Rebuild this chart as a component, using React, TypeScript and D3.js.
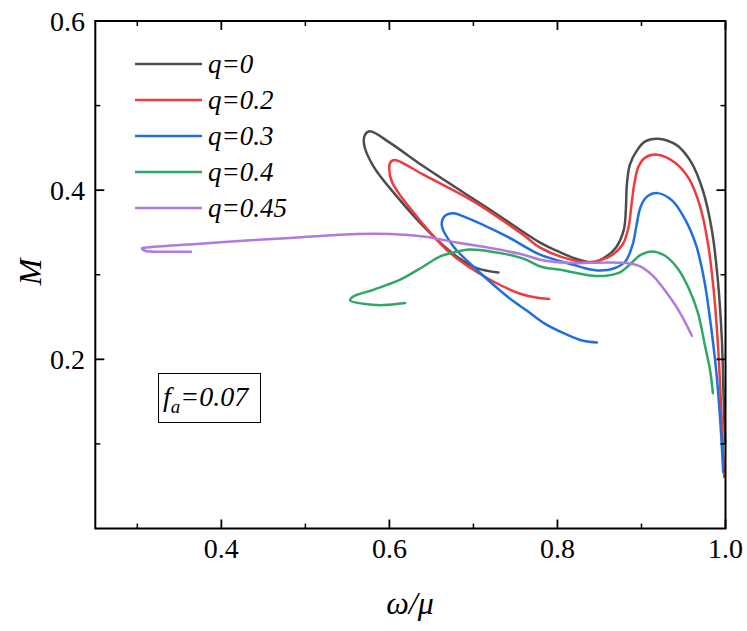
import React from "react";
import * as d3 from "d3";

type Pt = [number, number];

const seriesLabels = ["q=0", "q=0.2", "q=0.3", "q=0.4", "q=0.45"];
const seriesColors = ["#4d4d4d", "#ef3b3b", "#1f6fdc", "#2fa866", "#b07ae0"];

// values (ω/μ, M)
const q0: Pt[] = [
  [0.9996, 0.1012], [0.9978, 0.1533], [0.9957, 0.2225], [0.9909, 0.2935], [0.9838, 0.3527],
  [0.973, 0.3999], [0.9588, 0.4337], [0.9411, 0.4538], [0.919, 0.4609], [0.904, 0.4574],
  [0.8945, 0.4467], [0.8862, 0.4302], [0.8826, 0.4065], [0.8814, 0.3769], [0.8790, 0.3533],
  [0.8695, 0.3320], [0.8540, 0.3190], [0.8425, 0.3145], [0.8247, 0.3180], [0.7990, 0.3284],
  [0.7794, 0.3380], [0.7199, 0.3769], [0.6405, 0.4282], [0.6008, 0.4559], [0.577, 0.4696],
  [0.5711, 0.4657], [0.5699, 0.4538], [0.581, 0.4282], [0.6088, 0.3927], [0.6485, 0.3493],
  [0.6802, 0.3217], [0.704, 0.3079], [0.7298, 0.3027],
];

const q02: Pt[] = [
  [0.9985, 0.0609], [0.9949, 0.1414], [0.9913, 0.2124], [0.9860, 0.2811], [0.9790, 0.3379],
  [0.9695, 0.3817], [0.9565, 0.4136], [0.9400, 0.4325], [0.919, 0.4420], [0.9045, 0.4385],
  [0.8964, 0.4278], [0.8917, 0.4089], [0.8881, 0.3828], [0.8845, 0.3556], [0.8774, 0.3355],
  [0.8655, 0.3237], [0.8508, 0.3172], [0.8389, 0.3150], [0.819, 0.3170], [0.7794, 0.3320],
  [0.7595, 0.3470], [0.7, 0.3868], [0.6405, 0.4183], [0.6150, 0.4325], [0.6068, 0.4358],
  [0.6015, 0.4335], [0.5998, 0.4260], [0.6032, 0.4095], [0.6326, 0.369], [0.6723, 0.3257],
  [0.7199, 0.2941], [0.7595, 0.2763], [0.7901, 0.2712],
];

const q03: Pt[] = [
  [0.9973, 0.0669], [0.9937, 0.1280], [0.9889, 0.1870], [0.9818, 0.2462], [0.9747, 0.2935],
  [0.9652, 0.3343], [0.9521, 0.3651], [0.9366, 0.3876], [0.919, 0.3965], [0.9059, 0.3918],
  [0.8988, 0.3799], [0.8941, 0.3586], [0.8893, 0.3349], [0.8810, 0.3160], [0.8679, 0.3077],
  [0.8508, 0.3050], [0.8330, 0.3077], [0.819, 0.3118], [0.7794, 0.3237], [0.7398, 0.3453],
  [0.6881, 0.369], [0.6762, 0.3728], [0.6655, 0.3690], [0.6624, 0.358], [0.6762, 0.3335],
  [0.704, 0.3059], [0.7238, 0.2882], [0.7437, 0.2716], [0.7639, 0.2574], [0.7854, 0.2420],
  [0.8092, 0.2302], [0.8306, 0.2219], [0.8469, 0.2199],
];

const q04: Pt[] = [
  [0.985, 0.16], [0.9815, 0.1876], [0.9755, 0.2166], [0.9672, 0.2550], [0.9565, 0.2834],
  [0.9434, 0.3071], [0.9280, 0.3225], [0.9124, 0.3276], [0.8981, 0.3229], [0.8862, 0.3122],
  [0.8743, 0.3027], [0.8576, 0.2988], [0.8389, 0.2992], [0.8032, 0.3059], [0.7794, 0.3098],
  [0.7595, 0.3190], [0.7199, 0.3276], [0.6921, 0.3296], [0.6762, 0.3264], [0.6604, 0.3217],
  [0.6405, 0.3098], [0.6127, 0.2941], [0.581, 0.2822], [0.5571, 0.2743], [0.5532, 0.2696],
  [0.569, 0.2657], [0.5929, 0.2641], [0.6187, 0.2665],
];

const q045: Pt[] = [
  [0.96, 0.2278], [0.9461, 0.2547], [0.9302, 0.2783], [0.9143, 0.298], [0.8985, 0.3098],
  [0.8826, 0.3138], [0.8588, 0.3146], [0.819, 0.3138], [0.7794, 0.3178], [0.7595, 0.3237],
  [0.7199, 0.3316], [0.6802, 0.3382], [0.6405, 0.3453], [0.6008, 0.3482], [0.5612, 0.3482],
  [0.5214, 0.3462], [0.4818, 0.3434], [0.4342, 0.3408], [0.3746, 0.3367], [0.3151, 0.3325],
  [0.3056, 0.3314], [0.3092, 0.3284], [0.333, 0.3272], [0.3639, 0.3272],
];

const seriesData: Pt[][] = [q0, q02, q03, q04, q045];

const xMajorTicks = [0.4, 0.6, 0.8, 1.0];
const xMinorTicks = [0.3, 0.5, 0.7, 0.9];
const yMajorTicks = [0.2, 0.4, 0.6];
const yMinorTicks = [0.1, 0.3, 0.5];

const W = 747;
const H = 631;
const left = 95.3;
const right = 725.5;
const top = 21;
const bottom = 528.5;

export default function App() {
  const x = d3.scaleLinear().domain([0.25, 1.0]).range([left, right]);
  const y = d3.scaleLinear().domain([0, 0.6]).range([bottom, top]);
  const line = d3
    .line<Pt>()
    .x((d) => x(d[0]))
    .y((d) => y(d[1]))
    .curve(d3.curveCatmullRom.alpha(0.5));

  const majorLen = 9;
  const minorLen = 5;

  return (
    <svg width={W} height={H} style={{ position: "absolute", left: 0, top: 0 }}>
      <style>{`text, tspan { font-family: "Liberation Serif"; }`}</style>
      <rect x={0} y={0} width={W} height={H} fill="#fff" />
      {seriesData.map((d, i) => (
        <path key={i} d={line(d) || ""} fill="none" stroke={seriesColors[i]} strokeWidth={2.5} strokeLinejoin="round" strokeLinecap="round" />
      ))}
      <rect x={left} y={top} width={right - left} height={bottom - top} fill="none" stroke="#000" strokeWidth={2} />
      {xMajorTicks.map((t) => (
        <line key={"xM" + t} x1={x(t)} x2={x(t)} y1={bottom} y2={bottom - majorLen} stroke="#000" strokeWidth={1.8} />
      ))}
      {xMajorTicks.map((t) => (
        <line key={"xMt" + t} x1={x(t)} x2={x(t)} y1={top} y2={top + majorLen} stroke="#000" strokeWidth={1.8} />
      ))}
      {xMinorTicks.map((t) => (
        <line key={"xm" + t} x1={x(t)} x2={x(t)} y1={bottom} y2={bottom - minorLen} stroke="#000" strokeWidth={1.5} />
      ))}
      {xMinorTicks.map((t) => (
        <line key={"xmt" + t} x1={x(t)} x2={x(t)} y1={top} y2={top + minorLen} stroke="#000" strokeWidth={1.5} />
      ))}
      {yMajorTicks.map((t) => (
        <line key={"yM" + t} x1={left} x2={left + majorLen} y1={y(t)} y2={y(t)} stroke="#000" strokeWidth={1.8} />
      ))}
      {yMajorTicks.map((t) => (
        <line key={"yMr" + t} x1={right} x2={right - majorLen} y1={y(t)} y2={y(t)} stroke="#000" strokeWidth={1.8} />
      ))}
      {yMinorTicks.map((t) => (
        <line key={"ym" + t} x1={left} x2={left + minorLen} y1={y(t)} y2={y(t)} stroke="#000" strokeWidth={1.5} />
      ))}
      {yMinorTicks.map((t) => (
        <line key={"ymr" + t} x1={right} x2={right - minorLen} y1={y(t)} y2={y(t)} stroke="#000" strokeWidth={1.5} />
      ))}
      {xMajorTicks.map((t) => (
        <text key={"xl" + t} x={x(t)} y={558} textAnchor="middle" fontSize={28} fontFamily="Liberation Serif" style={{ fontFamily: '"Liberation Serif"' }}>
          {t.toFixed(1)}
        </text>
      ))}
      {yMajorTicks.map((t) => (
        <text key={"yl" + t} x={85} y={y(t) + 9.5} textAnchor="end" fontSize={28} fontFamily="Liberation Serif" style={{ fontFamily: '"Liberation Serif"' }}>
          {t.toFixed(1)}
        </text>
      ))}
      <text x={410} y={614} textAnchor="middle" fontSize={32} fontStyle="italic" fontFamily="Liberation Serif" style={{ fontFamily: '"Liberation Serif"' }}>
        ω/μ
      </text>
      <text transform="translate(41,272) rotate(-90)" textAnchor="middle" fontSize={32} fontStyle="italic" fontFamily="Liberation Serif" style={{ fontFamily: '"Liberation Serif"' }}>
        M
      </text>
      {seriesLabels.map((lab, i) => (
        <line key={"ll" + lab} x1={135} x2={202} y1={64 + i * 36} y2={64 + i * 36} stroke={seriesColors[i]} strokeWidth={2.5} />
      ))}
      {seriesLabels.map((lab, i) => (
        <text key={"lt" + lab} x={208} y={64 + i * 36 + 9} fontSize={27} fontStyle="italic" fontFamily="Liberation Serif" style={{ fontFamily: '"Liberation Serif"' }}>
          {lab}
        </text>
      ))}
      <rect x={158.5} y={373.5} width={102} height={49} fill="#fff" stroke="#000" strokeWidth={1} />
      <text x={163} y={406} fontSize={28} fontStyle="italic" fontFamily="Liberation Serif" style={{ fontFamily: '"Liberation Serif"' }}>
        f<tspan fontSize={19} dy={7}>a</tspan>
        <tspan dy={-7}>=0.07</tspan>
      </text>
    </svg>
  );
}
